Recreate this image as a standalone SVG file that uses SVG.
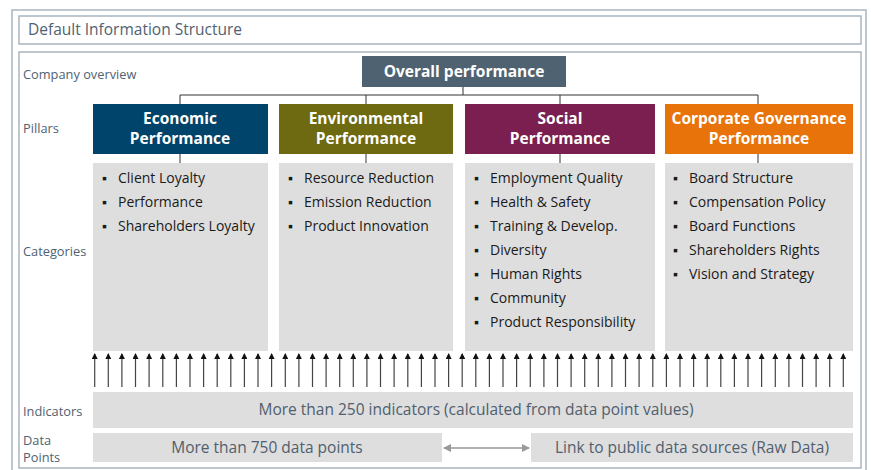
<svg xmlns="http://www.w3.org/2000/svg" width="871" height="470" viewBox="0 0 871 470">
<defs>
<style>
.frame{fill:#fff;stroke:#a9b5bf;stroke-width:1.5}
.lbl{font-family:"Open Sans","Liberation Sans",sans-serif;font-size:12.8px;fill:#4f6272}
.pt{font-family:"Open Sans","Liberation Sans",sans-serif;font-size:15.5px;font-weight:bold;fill:#fff;text-anchor:middle}
.cat{fill:#dedede}
.it{font-family:"Open Sans","Liberation Sans",sans-serif;font-size:14px;fill:#1a1a1a}
.big{font-family:"Open Sans","Liberation Sans",sans-serif;font-size:15.5px;fill:#50606e;text-anchor:middle}
.tree{stroke:#333;stroke-width:1;fill:none}
.up{stroke:#444;stroke-width:1.2;marker-end:url(#ah)}
</style>
<marker id="ah" viewBox="0 0 6 6" refX="5" refY="3" markerWidth="6" markerHeight="6" markerUnits="userSpaceOnUse" orient="auto"><path d="M0,0 L6,3 L0,6 Z" fill="#111"/></marker>
<marker id="gh" viewBox="0 0 8 8" refX="7" refY="4" markerWidth="8" markerHeight="8" markerUnits="userSpaceOnUse" orient="auto-start-reverse"><path d="M0,0 L8,4 L0,8 Z" fill="#999"/></marker>
</defs>
<rect x="12" y="10" width="854" height="465" class="frame"/>
<g id="title"><rect x="19" y="16" width="842" height="28" class="frame"/>
<text x="28" y="35" font-family="'Open Sans','Liberation Sans',sans-serif" font-size="15.5" fill="#4f6272">Default Information Structure</text></g>
<rect x="19" y="52" width="842" height="416" class="frame"/>
<g id="row-labels">
<text x="23" y="79" class="lbl">Company overview</text>
<text x="23" y="133" class="lbl">Pillars</text>
<text x="23" y="256" class="lbl">Categories</text>
<text x="23" y="416" class="lbl">Indicators</text>
<text x="23" y="445" class="lbl">Data</text>
<text x="23" y="462" class="lbl">Points</text>
</g>
<g id="connectors">
<path class="tree" d="M463,87 V95 M180,95 H758 M180,95 V104 M366,95 V104 M560,95 V104 M758,95 V104 M180,154 V163 M366,154 V163 M560,154 V163 M758,154 V163"/>
<g id="up-arrows">
<line class="up" x1="94.7" y1="387" x2="94.7" y2="354"/><line class="up" x1="108.3" y1="387" x2="108.3" y2="354"/><line class="up" x1="121.9" y1="387" x2="121.9" y2="354"/><line class="up" x1="135.5" y1="387" x2="135.5" y2="354"/><line class="up" x1="149.1" y1="387" x2="149.1" y2="354"/><line class="up" x1="162.8" y1="387" x2="162.8" y2="354"/><line class="up" x1="176.4" y1="387" x2="176.4" y2="354"/><line class="up" x1="190" y1="387" x2="190" y2="354"/><line class="up" x1="203.6" y1="387" x2="203.6" y2="354"/><line class="up" x1="217.2" y1="387" x2="217.2" y2="354"/><line class="up" x1="230.8" y1="387" x2="230.8" y2="354"/><line class="up" x1="244.4" y1="387" x2="244.4" y2="354"/><line class="up" x1="258" y1="387" x2="258" y2="354"/><line class="up" x1="271.6" y1="387" x2="271.6" y2="354"/><line class="up" x1="285.3" y1="387" x2="285.3" y2="354"/><line class="up" x1="298.9" y1="387" x2="298.9" y2="354"/><line class="up" x1="312.5" y1="387" x2="312.5" y2="354"/><line class="up" x1="326.1" y1="387" x2="326.1" y2="354"/><line class="up" x1="339.7" y1="387" x2="339.7" y2="354"/><line class="up" x1="353.3" y1="387" x2="353.3" y2="354"/><line class="up" x1="366.9" y1="387" x2="366.9" y2="354"/><line class="up" x1="380.5" y1="387" x2="380.5" y2="354"/><line class="up" x1="394.1" y1="387" x2="394.1" y2="354"/><line class="up" x1="407.8" y1="387" x2="407.8" y2="354"/><line class="up" x1="421.4" y1="387" x2="421.4" y2="354"/><line class="up" x1="435" y1="387" x2="435" y2="354"/><line class="up" x1="448.6" y1="387" x2="448.6" y2="354"/><line class="up" x1="462.2" y1="387" x2="462.2" y2="354"/><line class="up" x1="475.8" y1="387" x2="475.8" y2="354"/><line class="up" x1="489.4" y1="387" x2="489.4" y2="354"/><line class="up" x1="503" y1="387" x2="503" y2="354"/><line class="up" x1="516.6" y1="387" x2="516.6" y2="354"/><line class="up" x1="530.3" y1="387" x2="530.3" y2="354"/><line class="up" x1="543.9" y1="387" x2="543.9" y2="354"/><line class="up" x1="557.5" y1="387" x2="557.5" y2="354"/><line class="up" x1="571.1" y1="387" x2="571.1" y2="354"/><line class="up" x1="584.7" y1="387" x2="584.7" y2="354"/><line class="up" x1="598.3" y1="387" x2="598.3" y2="354"/><line class="up" x1="611.9" y1="387" x2="611.9" y2="354"/><line class="up" x1="625.5" y1="387" x2="625.5" y2="354"/><line class="up" x1="639.1" y1="387" x2="639.1" y2="354"/><line class="up" x1="652.8" y1="387" x2="652.8" y2="354"/><line class="up" x1="666.4" y1="387" x2="666.4" y2="354"/><line class="up" x1="680" y1="387" x2="680" y2="354"/><line class="up" x1="693.6" y1="387" x2="693.6" y2="354"/><line class="up" x1="707.2" y1="387" x2="707.2" y2="354"/><line class="up" x1="720.8" y1="387" x2="720.8" y2="354"/><line class="up" x1="734.4" y1="387" x2="734.4" y2="354"/><line class="up" x1="748" y1="387" x2="748" y2="354"/><line class="up" x1="761.6" y1="387" x2="761.6" y2="354"/><line class="up" x1="775.3" y1="387" x2="775.3" y2="354"/><line class="up" x1="788.9" y1="387" x2="788.9" y2="354"/><line class="up" x1="802.5" y1="387" x2="802.5" y2="354"/><line class="up" x1="816.1" y1="387" x2="816.1" y2="354"/><line class="up" x1="829.7" y1="387" x2="829.7" y2="354"/><line class="up" x1="843.3" y1="387" x2="843.3" y2="354"/>
</g>
<line x1="444" y1="448" x2="529" y2="448" stroke="#999" stroke-width="1.5" marker-start="url(#gh)" marker-end="url(#gh)"/>
</g>
<g id="overall"><rect x="362" y="56" width="204" height="31" fill="#4f6272"/><text x="464" y="77" class="pt" font-size="16.5">Overall performance</text></g>
<g id="economic"><rect x="93" y="104" width="175" height="50" fill="#00446c"/><text x="180" y="124" class="pt">Economic</text><text x="180" y="144" class="pt">Performance</text></g>
<g id="environmental"><rect x="279" y="104" width="174" height="50" fill="#6e6a12"/><text x="366" y="124" class="pt">Environmental</text><text x="366" y="144" class="pt">Performance</text></g>
<g id="social"><rect x="465" y="104" width="190" height="50" fill="#7a1f4f"/><text x="560" y="124" class="pt">Social</text><text x="560" y="144" class="pt">Performance</text></g>
<g id="governance"><rect x="665" y="104" width="188" height="50" fill="#e8730a"/><text x="759" y="124" class="pt">Corporate Governance</text><text x="759" y="144" class="pt">Performance</text></g>
<g id="cat-economic"><rect x="93" y="163" width="175" height="188" class="cat"/>
<text class="it"><tspan x="102" y="183">▪</tspan><tspan x="118" y="183">Client Loyalty</tspan><tspan x="102" y="207">▪</tspan><tspan x="118" y="207">Performance</tspan><tspan x="102" y="231">▪</tspan><tspan x="118" y="231">Shareholders Loyalty</tspan></text></g>
<g id="cat-environmental"><rect x="279" y="163" width="174" height="188" class="cat"/>
<text class="it"><tspan x="288" y="183">▪</tspan><tspan x="304" y="183">Resource Reduction</tspan><tspan x="288" y="207">▪</tspan><tspan x="304" y="207">Emission Reduction</tspan><tspan x="288" y="231">▪</tspan><tspan x="304" y="231">Product Innovation</tspan></text></g>
<g id="cat-social"><rect x="465" y="163" width="190" height="188" class="cat"/>
<text class="it"><tspan x="474" y="183">▪</tspan><tspan x="490" y="183">Employment Quality</tspan><tspan x="474" y="207">▪</tspan><tspan x="490" y="207">Health &amp; Safety</tspan><tspan x="474" y="231">▪</tspan><tspan x="490" y="231">Training &amp; Develop.</tspan><tspan x="474" y="255">▪</tspan><tspan x="490" y="255">Diversity</tspan><tspan x="474" y="279">▪</tspan><tspan x="490" y="279">Human Rights</tspan><tspan x="474" y="303">▪</tspan><tspan x="490" y="303">Community</tspan><tspan x="474" y="327">▪</tspan><tspan x="490" y="327">Product Responsibility</tspan></text></g>
<g id="cat-governance"><rect x="665" y="163" width="188" height="188" class="cat"/>
<text class="it"><tspan x="673" y="183">▪</tspan><tspan x="689" y="183">Board Structure</tspan><tspan x="673" y="207">▪</tspan><tspan x="689" y="207">Compensation Policy</tspan><tspan x="673" y="231">▪</tspan><tspan x="689" y="231">Board Functions</tspan><tspan x="673" y="255">▪</tspan><tspan x="689" y="255">Shareholders Rights</tspan><tspan x="673" y="279">▪</tspan><tspan x="689" y="279">Vision and Strategy</tspan></text></g>
<g id="indicators"><rect x="93" y="392" width="760" height="36" class="cat"/><text x="476" y="415" class="big">More than 250 indicators (calculated from data point values)</text></g>
<g id="datapoints"><rect x="93" y="433" width="349" height="29" class="cat"/><text x="267" y="453" class="big">More than 750 data points</text></g>
<g id="rawdata"><rect x="531" y="433" width="322" height="29" class="cat"/><text x="692" y="453" class="big">Link to public data sources (Raw Data)</text></g>
</svg>
